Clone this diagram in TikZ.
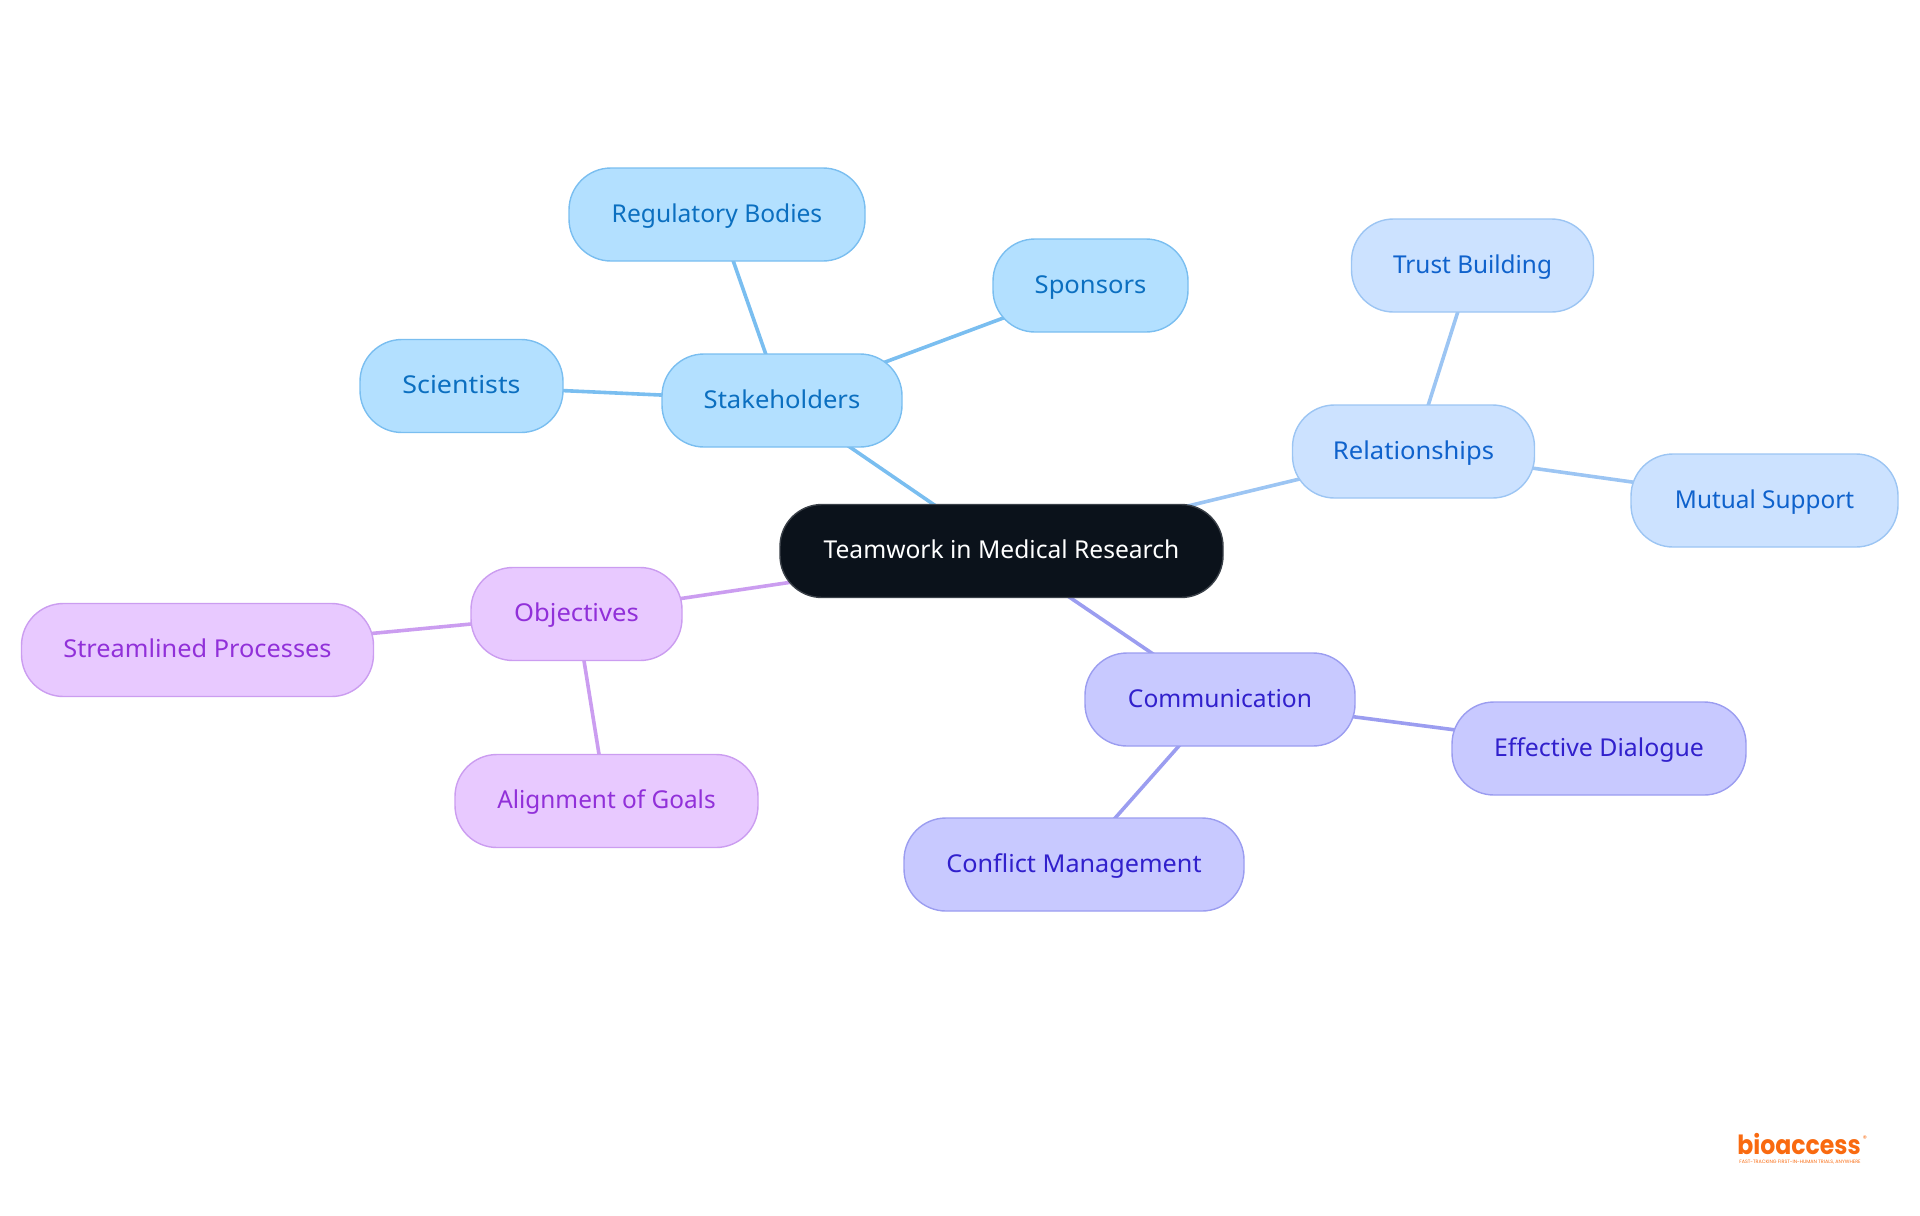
\documentclass[tikz,border=0pt]{standalone}
\usepackage{fontspec}
\setmainfont{Noto Sans}
\newfontfamily\logofont{Poppins}
\usetikzlibrary{backgrounds}
\definecolor{rootfill}{HTML}{0B121B}
\definecolor{rootline}{HTML}{3A4048}
\definecolor{skyfill}{HTML}{B3E0FF}
\definecolor{skyline}{HTML}{7ABEF0}
\definecolor{skytext}{HTML}{0B6FC0}
\definecolor{palefill}{HTML}{CCE2FF}
\definecolor{paleline}{HTML}{9CC5F3}
\definecolor{paletext}{HTML}{0F62CC}
\definecolor{indfill}{HTML}{C8C9FF}
\definecolor{indline}{HTML}{9B9DF0}
\definecolor{indtext}{HTML}{3120CC}
\definecolor{purfill}{HTML}{E8C9FF}
\definecolor{purline}{HTML}{CB9DF0}
\definecolor{purtext}{HTML}{9130D9}
\definecolor{logoorange}{HTML}{F96A10}
\newcommand{\widen}[2]{\scalebox{#1}[1]{#2}}
\tikzset{
  x=0.5pt,y=-0.5pt,
  pill/.style={rectangle,rounded corners=21pt,line width=0.7pt,inner sep=0pt,
    minimum height=46.5pt,text height=10pt,text depth=2.5pt,font=\fontsize{12.3}{14}\selectfont},
  rootpill/.style={pill,fill=rootfill,draw=rootline,text=white},
  sky/.style={pill,fill=skyfill,draw=skyline,text=skytext},
  pale/.style={pill,fill=palefill,draw=paleline,text=paletext},
  ind/.style={pill,fill=indfill,draw=indline,text=indtext},
  pur/.style={pill,fill=purfill,draw=purline,text=purtext},
  skyedge/.style={draw=skyline,line width=1.8pt},
  paleedge/.style={draw=paleline,line width=1.8pt},
  indedge/.style={draw=indline,line width=1.8pt},
  puredge/.style={draw=purline,line width=1.8pt},
}
\begin{document}
\begin{tikzpicture}
\useasboundingbox (0,0) rectangle (1920,1215);
\node[rootpill,minimum width=221.5pt] (root) at (1001.5,551) {\widen{1.0}{Teamwork in Medical Research}};
\node[sky,minimum width=120pt] (stake) at (782,400.5) {\widen{1.04}{Stakeholders}};
\node[sky,minimum width=148pt] (reg) at (717,214.5) {\widen{1.0}{Regulatory Bodies}};
\node[sky,minimum width=97.5pt] (spon) at (1090.5,285.5) {\widen{1.04}{Sponsors}};
\node[sky,minimum width=101.5pt] (sci) at (461.5,386) {\widen{1.09}{Scientists}};
\node[pale,minimum width=121pt] (rel) at (1413.5,451.5) {\widen{1.04}{Relationships}};
\node[pale,minimum width=121pt] (trust) at (1472.5,265.5) {\widen{0.99}{Trust Building}};
\node[pale,minimum width=133.5pt] (mutual) at (1764.5,500.5) {\widen{0.99}{Mutual Support}};
\node[ind,minimum width=135pt] (comm) at (1220,699.5) {\widen{1.0}{Communication}};
\node[ind,minimum width=147pt] (eff) at (1599,748.5) {\widen{1.01}{Effective Dialogue}};
\node[ind,minimum width=170pt] (conf) at (1074,864.5) {\widen{1.025}{Conflict Management}};
\node[pur,minimum width=105.5pt] (obj) at (576.5,614) {\widen{1.04}{Objectives}};
\node[pur,minimum width=176pt] (stream) at (197.5,650) {\widen{1.03}{Streamlined Processes}};
\node[pur,minimum width=151.5pt] (align) at (606.5,801) {\widen{0.99}{Alignment of Goals}};
\node[inner sep=0pt,text=logoorange,font=\logofont\bfseries\fontsize{11.8}{14}\selectfont] (logo) at (1799,1144) {\scalebox{1}[1.12]{bioaccess}};
\node[inner sep=0pt,text=logoorange,font=\logofont\fontsize{4}{5}\selectfont] (regmark) at (1865,1139) {®};
\node[inner sep=0pt,text=logoorange,font=\logofont\fontsize{2.4}{3}\selectfont] (tag) at (1800,1162) {FAST-TRACKING FIRST-IN-HUMAN TRIALS, ANYWHERE};
\begin{scope}[on background layer]
\draw[skyedge] (root.center) -- (stake.center);
\draw[skyedge] (stake.center) -- (reg.center);
\draw[skyedge] (stake.center) -- (spon.center);
\draw[skyedge] (stake.center) -- (sci.center);
\draw[paleedge] (root.center) -- (rel.center);
\draw[paleedge] (rel.center) -- (trust.center);
\draw[paleedge] (rel.center) -- (mutual.center);
\draw[indedge] (root.center) -- (comm.center);
\draw[indedge] (comm.center) -- (eff.center);
\draw[indedge] (comm.center) -- (conf.center);
\draw[puredge] (root.center) -- (obj.center);
\draw[puredge] (obj.center) -- (stream.center);
\draw[puredge] (obj.center) -- (align.center);
\end{scope}
\end{tikzpicture}
\end{document}
